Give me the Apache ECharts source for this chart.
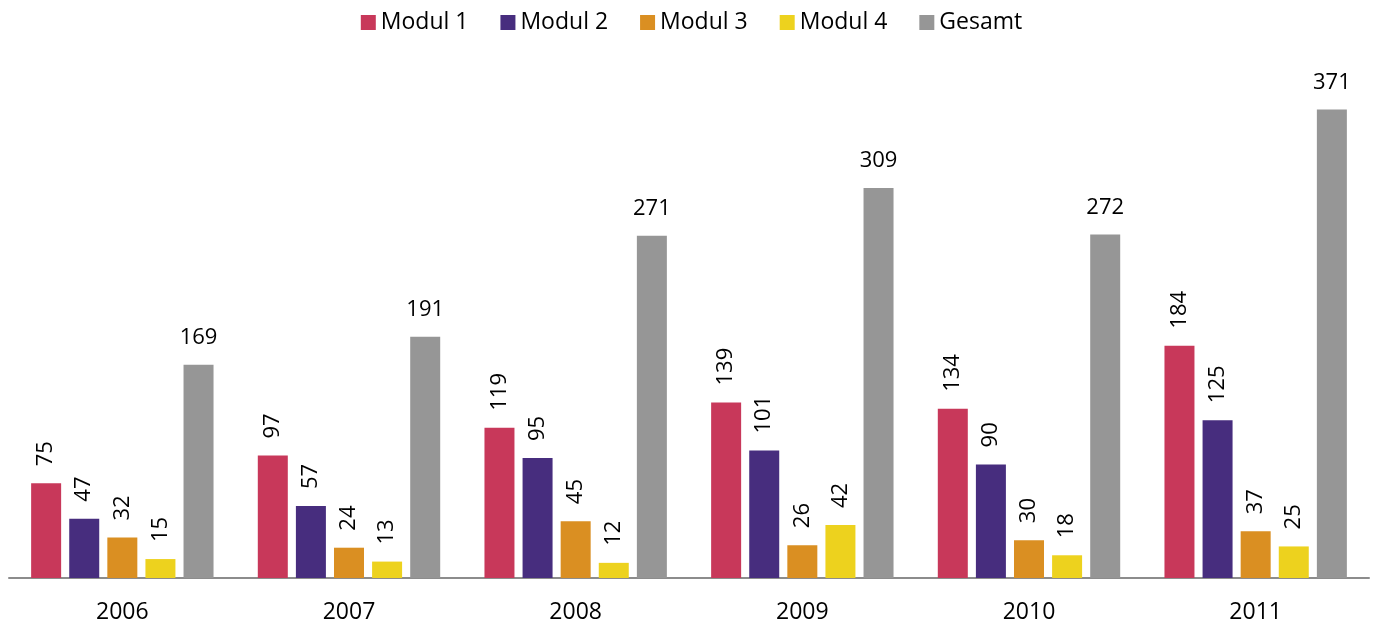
<!DOCTYPE html>
<html>
<head>
<meta charset="utf-8">
<script src="https://cdn.jsdelivr.net/npm/echarts@6/dist/echarts.min.js"></script>
<style>
  html, body { margin: 0; padding: 0; background: #fff; }
  #chart { width: 1383px; height: 625px; }
</style>
</head>
<body>
<div id="chart"></div>
<script>
var years = ["2006", "2007", "2008", "2009", "2010", "2011"];
var modul1 = [75, 97, 119, 139, 134, 184];
var modul2 = [47, 57, 95, 101, 90, 125];
var modul3 = [32, 24, 45, 26, 30, 37];
var modul4 = [15, 13, 12, 42, 18, 25];
var gesamt = [169, 191, 271, 309, 272, 371];

var font = "'Open Sans', 'Liberation Sans', sans-serif";

// rotated labels for the modules
var rotLabel = {
  show: true,
  position: "top",
  rotate: 90,
  align: "left",
  verticalAlign: "middle",
  distance: 17,
  color: "#000",
  fontSize: 22,
  fontFamily: font,
};

function moduleSeries(name, data, color) {
  return {
    name: name,
    type: "bar",
    barWidth: 30,
    barGap: "27%",
    itemStyle: { color: color },
    label: rotLabel,
    data: data,
  };
}

var myChart = echarts.init(document.getElementById("chart"));
var option = {
  animation: false,
  textStyle: { fontFamily: font },
  legend: {
    top: 6,
    left: "center",
    itemWidth: 15,
    itemHeight: 15,
    itemGap: 32,
    icon: "rect",
    textStyle: { fontSize: 23, color: "#000", fontFamily: font },
  },
  grid: {
    left: 9,
    right: 14,
    top: 73,
    bottom: 47,
  },
  xAxis: {
    type: "category",
    data: years,
    axisTick: { show: false },
    axisLine: { lineStyle: { color: "#8c8c8c", width: 2 } },
    axisLabel: { color: "#000", fontSize: 23, margin: 23, fontFamily: font },
  },
  yAxis: {
    type: "value",
    min: 0,
    max: 400,
    show: false,
    splitLine: { show: false },
  },
  series: [
    moduleSeries("Modul 1", modul1, "#c8385a"),
    moduleSeries("Modul 2", modul2, "#472d7e"),
    moduleSeries("Modul 3", modul3, "#da8f22"),
    moduleSeries("Modul 4", modul4, "#edd21e"),
    {
      name: "Gesamt",
      type: "bar",
      barWidth: 30,
      barGap: "27%",
      itemStyle: { color: "#969696" },
      label: {
        show: true,
        position: "top",
        distance: 16,
        color: "#000",
        fontSize: 22,
        fontFamily: font,
      },
      data: gesamt,
    },
  ],
};
myChart.setOption(option);
</script>
</body>
</html>
